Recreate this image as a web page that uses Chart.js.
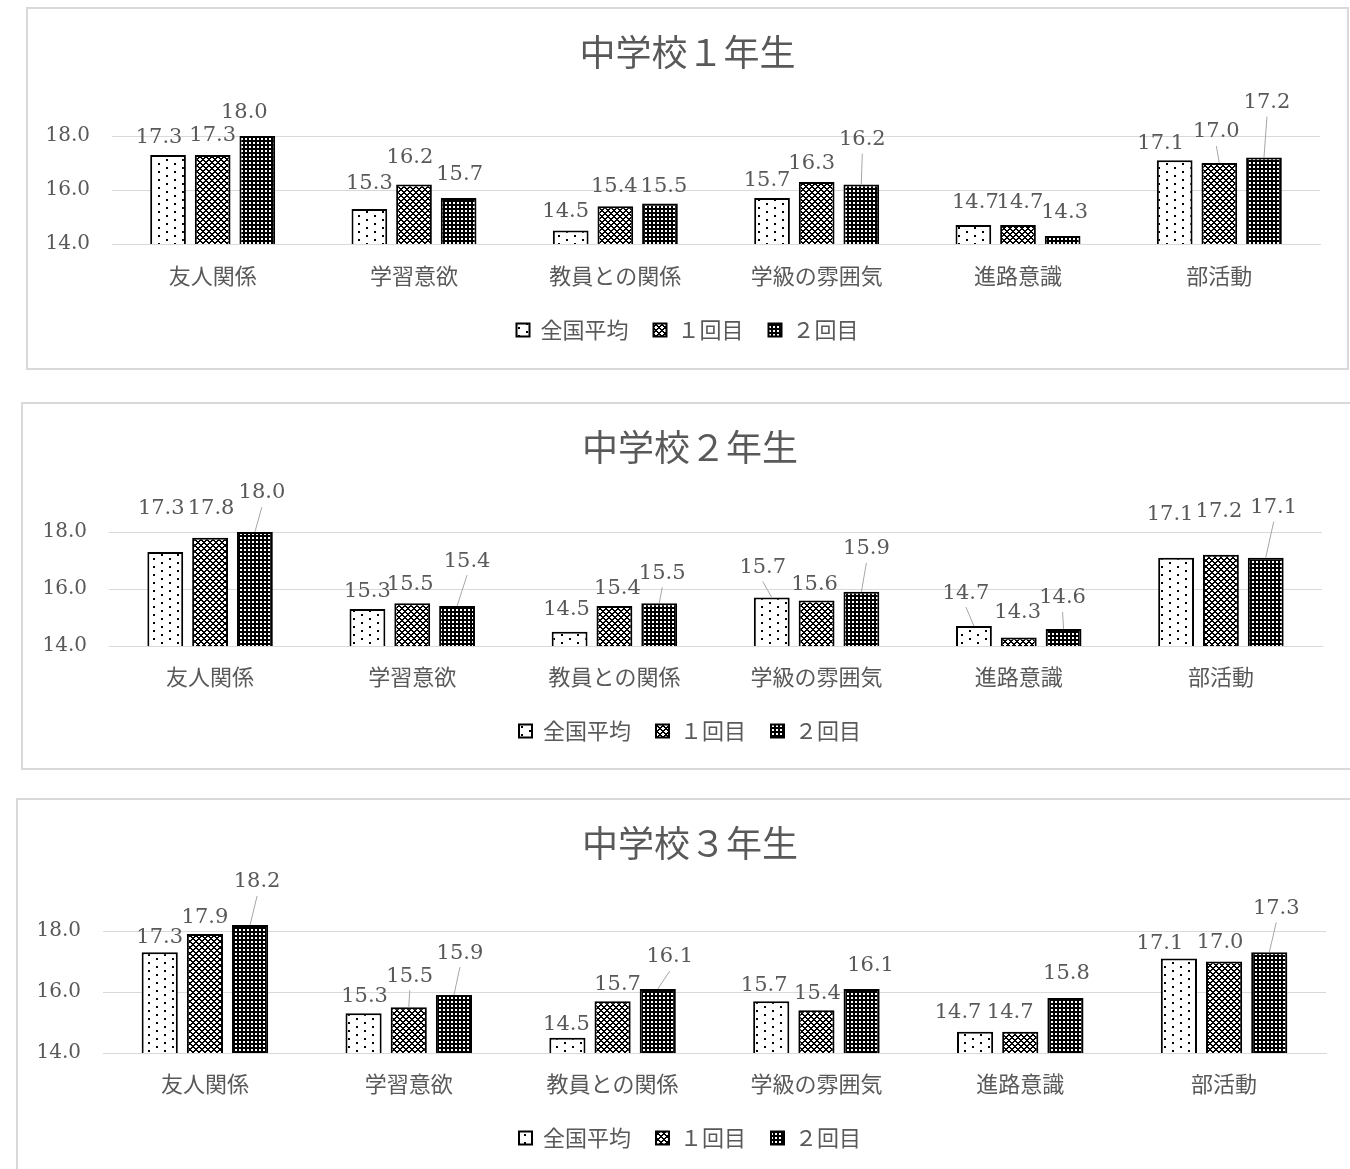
<!DOCTYPE html>
<html lang="ja">
<head>
<meta charset="utf-8">
<title>中学校 学年別 調査結果</title>
<script src="https://cdn.jsdelivr.net/npm/chart.js@4.4.1/dist/chart.umd.min.js"></script>
<style>
  html, body { margin: 0; padding: 0; background: #fff; }
  body { position: relative; width: 1350px; height: 1169px; overflow: hidden; }
  .panel { position: absolute; box-sizing: border-box; border: 2px solid #d9d9d9; background: #fff; }
  .panel canvas { display: block; }
</style>
</head>
<body>
<div class="panel" id="panel1"><canvas id="chart1"></canvas></div>
<div class="panel" id="panel2"><canvas id="chart2"></canvas></div>
<div class="panel" id="panel3"><canvas id="chart3"></canvas></div>
<script>
// ---- data ----
const categories = ['友人関係', '学習意欲', '教員との関係', '学級の雰囲気', '進路意識', '部活動'];
const seriesNames = ['全国平均', '１回目', '２回目'];
const titles = ['中学校１年生', '中学校２年生', '中学校３年生'];

const nationalAverage = [17.3, 15.3, 14.5, 15.7, 14.7, 17.1];
const grade1First  = [17.3, 16.2, 15.4, 16.3, 14.7, 17.0];
const grade1Second = [18.0, 15.7, 15.5, 16.2, 14.3, 17.2];
const grade2First  = [17.8, 15.5, 15.4, 15.6, 14.3, 17.2];
const grade2Second = [18.0, 15.4, 15.5, 15.9, 14.6, 17.1];
const grade3First  = [17.9, 15.5, 15.7, 15.4, 14.7, 17.0];
const grade3Second = [18.2, 15.9, 16.1, 16.1, 15.8, 17.3];

const yTickValues = [14, 16, 18];
const yMin = 14;
const yMax = 18.5;

// ---- styling ----
const TEXT = '#595959';
const GRID = '#d9d9d9';
const SERIF = '"DejaVu Serif", "Noto Sans CJK JP", serif';
const CJK = '"Noto Sans CJK JP", "DejaVu Sans", sans-serif';

// Fill patterns for the three series (sparse dots, mesh, dark dotted)
function tilePattern(w, h, paint) {
  const c = document.createElement('canvas');
  c.width = w; c.height = h;
  const g = c.getContext('2d');
  paint(g, w, h);
  return g.createPattern(c, 'repeat');
}
const patterns = [
  tilePattern(16, 8, (g, w, h) => {
    g.fillStyle = '#fff'; g.fillRect(0, 0, w, h);
    g.fillStyle = '#000';
    g.fillRect(2, 2, 2, 2);
    g.fillRect(10, 6, 2, 2);
  }),
  tilePattern(6, 6, (g, w, h) => {
    g.fillStyle = '#fff'; g.fillRect(0, 0, w, h);
    g.fillStyle = '#000';
    for (let y = 0; y < h; y++) {
      for (let x = 0; x < w; x++) {
        const a = (x + y) % 6, b = (x - y + 6) % 6;
        if (a === 0 || a === 1 || b === 0 || b === 1) g.fillRect(x, y, 1, 1);
      }
    }
  }),
  tilePattern(4, 4, (g, w, h) => {
    g.fillStyle = '#000'; g.fillRect(0, 0, w, h);
    g.fillStyle = '#fff';
    g.fillRect(1, 1, 2, 2);
  })
];

// Per-panel layout: box geometry, axis widths and value-label offsets [dx, dy, leader]
const panels = [
  {
    canvas: 'chart1', box: 'panel1', title: titles[0],
    series: [nationalAverage, grade1First, grade1Second],
    rect: { left: 26, top: 7, width: 1323, height: 363 },
    padBottom: 17, yWidth: 84, rightWidth: 27,
    titleTop: 21.4, titleBottom: 48.9, xHeight: 50, xPad: 18.8,
    offsets: [
      [[-9, -17], [0, -25], [-5, -19], [-5, -18], [2, -23], [-14, -17]],
      [[0, -19], [-4, -27], [-1, -20], [-5, -18], [2, -23], [-3, -31, 1]],
      [[-13, -23], [1, -24], [4, -17], [1, -45, 1], [2, -23], [3, -55, 1]]
    ]
  },
  {
    canvas: 'chart2', box: 'panel2', title: titles[1],
    series: [nationalAverage, grade2First, grade2Second],
    rect: { left: 21, top: 402, width: 1338, height: 368 },
    padBottom: 16, yWidth: 86, rightWidth: 35,
    titleTop: 21.4, titleBottom: 49.15, xHeight: 49, xPad: 17.8,
    offsets: [
      [[-4, -43], [0, -17], [-3, -22], [-9, -30, 1], [-8, -33, 1], [-6, -43]],
      [[1, -29], [-2, -19], [3, -18], [-2, -16], [-1, -25], [-2, -43]],
      [[7, -39, 1], [10, -45, 1], [3, -30, 1], [5, -43, 1], [-1, -31, 1], [8, -50, 1]]
    ]
  },
  {
    canvas: 'chart3', box: 'panel3', title: titles[2],
    series: [nationalAverage, grade3First, grade3Second],
    rect: { left: 16, top: 798, width: 1348, height: 380 },
    padBottom: 17, yWidth: 85, rightWidth: 36,
    titleTop: 21.4, titleBottom: 51.15, xHeight: 49, xPad: 17.8,
    offsets: [
      [[0, -15], [1, -17], [-1, -13], [-7, -16], [-17, -19], [-19, -15]],
      [[0, -17], [1, -31, 1], [5, -17], [1, -17], [-10, -19], [-4, -19]],
      [[7, -43, 1], [6, -42, 1], [12, -32, 1], [9, -23], [1, -25], [7, -44, 1]]
    ]
  }
];

// Value labels above each bar, with leader lines for the ones moved away
const valueLabels = {
  id: 'valueLabels',
  afterDatasetsDraw(chart, args, opts) {
    const ctx = chart.ctx;
    const offsets = opts.offsets || [];
    ctx.save();
    ctx.font = '21px ' + SERIF;
    ctx.textAlign = 'center';
    ctx.textBaseline = 'middle';
    chart.data.datasets.forEach((ds, di) => {
      const meta = chart.getDatasetMeta(di);
      meta.data.forEach((bar, i) => {
        const o = (offsets[di] && offsets[di][i]) || [0, -17];
        const lx = bar.x + o[0];
        const ly = bar.y + o[1];
        if (o[2]) {
          ctx.strokeStyle = '#a6a6a6';
          ctx.lineWidth = 1;
          ctx.beginPath();
          ctx.moveTo(lx, ly + 14);
          ctx.lineTo(bar.x, bar.y);
          ctx.stroke();
        }
        ctx.fillStyle = TEXT;
        ctx.fillText(ds.data[i].toFixed(1), lx, ly);
      });
    });
    ctx.restore();
  }
};

panels.forEach(p => {
  const box = document.getElementById(p.box);
  box.style.left = p.rect.left + 'px';
  box.style.top = p.rect.top + 'px';
  box.style.width = p.rect.width + 'px';
  box.style.height = p.rect.height + 'px';
  const canvas = document.getElementById(p.canvas);
  canvas.width = p.rect.width - 4;
  canvas.height = p.rect.height - 4;

  new Chart(canvas, {
    type: 'bar',
    data: {
      labels: categories,
      datasets: p.series.map((values, si) => ({
        label: seriesNames[si],
        data: values,
        backgroundColor: patterns[si],
        borderColor: '#000',
        borderWidth: 2,
        barPercentage: 0.8,
        categoryPercentage: 0.665
      }))
    },
    options: {
      responsive: false,
      animation: false,
      devicePixelRatio: 1,
      layout: { padding: { left: 0, right: 0, top: 0, bottom: p.padBottom } },
      scales: {
        x: {
          grid: { display: false, drawTicks: false },
          border: { display: true, color: GRID, width: 1 },
          ticks: { color: TEXT, font: { family: CJK, size: 22 }, padding: p.xPad, maxRotation: 0, autoSkip: false },
          afterFit(scale) { scale.height = p.xHeight; }
        },
        y: {
          min: yMin,
          max: yMax,
          grid: { color: GRID, lineWidth: 1, drawTicks: false },
          border: { display: false },
          ticks: {
            color: TEXT,
            font: { family: SERIF, size: 20 },
            padding: 22,
            callback: v => Number(v).toFixed(1)
          },
          afterBuildTicks(scale) { scale.ticks = yTickValues.map(v => ({ value: v })); },
          afterFit(scale) { scale.width = p.yWidth; }
        },
        // empty margin on the right of the plot
        yRight: {
          type: 'linear',
          position: 'right',
          display: true,
          grid: { display: false, drawTicks: false },
          border: { display: false },
          ticks: { display: false },
          afterFit(scale) { scale.width = p.rightWidth; }
        }
      },
      plugins: {
        title: {
          display: true,
          text: p.title,
          color: TEXT,
          font: { family: CJK, size: 36, weight: 'normal', lineHeight: 1.2 },
          padding: { top: p.titleTop, bottom: p.titleBottom }
        },
        legend: {
          display: true,
          position: 'bottom',
          labels: {
            color: TEXT,
            font: { family: CJK, size: 22 },
            boxWidth: 13,
            boxHeight: 13,
            padding: 25
          }
        },
        tooltip: { enabled: false },
        valueLabels: { offsets: p.offsets }
      }
    },
    plugins: [valueLabels]
  });
});
</script>
</body>
</html>
